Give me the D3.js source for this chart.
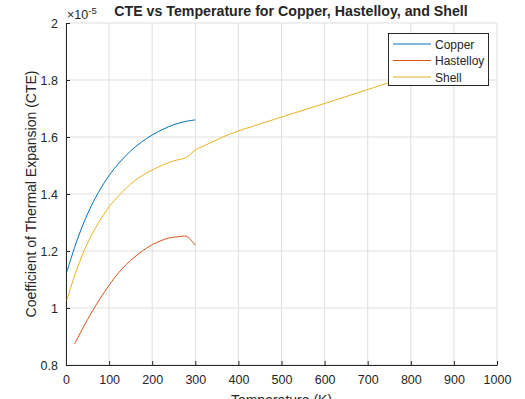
<!DOCTYPE html>
<html>
<head>
<meta charset="utf-8">
<style>
body { margin: 0; background: white; }
text { font-family: "Liberation Sans", Arial, sans-serif; fill: #262626; }
</style>
<script src="https://d3js.org/d3.v7.min.js"></script>
</head>
<body>
<div id="chart"></div>
<script>
// readings, CTE in units of 1e-5
var seriesNames = ["Copper", "Hastelloy", "Shell"];
var seriesColors = ["#0072BD", "#D95319", "#EDB120"];

var copperT = [2, 25, 50, 75, 100, 125, 150, 175, 200, 225, 250, 275, 300];
var copperCTE = [1.127, 1.235, 1.33, 1.405, 1.465, 1.512, 1.551, 1.582, 1.607, 1.627, 1.643, 1.654, 1.66];

var hastT = [20, 40, 60, 80, 100, 120, 140, 160, 180, 200, 220, 240, 260, 280, 300];
var hastCTE = [0.874, 0.932, 0.986, 1.035, 1.08, 1.12, 1.153, 1.18, 1.203, 1.222, 1.236, 1.246, 1.25, 1.251, 1.22];

var shellT = [2, 25, 50, 75, 100, 125, 150, 175, 200, 225, 250, 280, 300, 333, 380, 496, 605, 744, 800];
var shellCTE = [1.028, 1.135, 1.228, 1.298, 1.355, 1.398, 1.435, 1.463, 1.484, 1.502, 1.516, 1.529, 1.554, 1.578, 1.61, 1.668, 1.72, 1.788, 1.815];

var xTicks = [0, 100, 200, 300, 400, 500, 600, 700, 800, 900, 1000];
var yTicks = [0.8, 1, 1.2, 1.4, 1.6, 1.8, 2];

var W = 525, H = 399;
var padL = 66, padR = 497, padT = 23, padB = 365;

var svg = d3.select("#chart").append("svg")
    .attr("width", W).attr("height", H)
    .style("background", "white");

var x = d3.scaleLinear().domain([0, 1000]).range([padL, padR]);
var y = d3.scaleLinear().domain([0.8, 2]).range([padB, padT]);

// grid
svg.append("g").selectAll("line").data(xTicks).enter().append("line")
    .attr("x1", function(d) { return x(d); }).attr("x2", function(d) { return x(d); })
    .attr("y1", padT).attr("y2", padB)
    .attr("stroke", "#dfdfdf").attr("stroke-width", 1);
svg.append("g").selectAll("line").data(yTicks).enter().append("line")
    .attr("y1", function(d) { return y(d); }).attr("y2", function(d) { return y(d); })
    .attr("x1", padL).attr("x2", padR)
    .attr("stroke", "#dfdfdf").attr("stroke-width", 1);

// axes
var xAxis = d3.axisBottom(x).tickValues(xTicks).tickSizeInner(-4).tickSizeOuter(0).tickPadding(8)
    .tickFormat(d3.format("d"));
var yAxis = d3.axisLeft(y).tickValues(yTicks).tickSizeInner(-4).tickSizeOuter(0).tickPadding(8)
    .tickFormat(function(d) { return d === 1 || d === 2 ? String(d) : d.toFixed(1); });

var gx = svg.append("g").attr("transform", "translate(0," + padB + ")").call(xAxis);
var gy = svg.append("g").attr("transform", "translate(" + padL + ",0)").call(yAxis);
[gx, gy].forEach(function(g) {
    g.select(".domain").attr("stroke", "#262626");
    g.selectAll(".tick line").attr("stroke", "#262626");
    g.selectAll(".tick text").attr("font-size", "12.5px")
        .attr("font-family", "Liberation Sans, Arial, sans-serif").attr("fill", "#262626");
});
gx.selectAll(".tick text").attr("dy", "0.9em");

// lines
var sets = [
    copperT.map(function(t, i) { return [t, copperCTE[i]]; }),
    hastT.map(function(t, i) { return [t, hastCTE[i]]; }),
    shellT.map(function(t, i) { return [t, shellCTE[i]]; })
];
var line = d3.line().curve(d3.curveCatmullRom.alpha(0.5))
    .x(function(d) { return x(d[0]); })
    .y(function(d) { return y(d[1]); });
svg.append("g").selectAll("path").data(sets).enter().append("path")
    .attr("d", line)
    .attr("fill", "none")
    .attr("stroke", function(d, i) { return seriesColors[i]; })
    .attr("stroke-width", 1);

// legend
var lg = svg.append("g");
lg.append("rect").attr("x", 388.5).attr("y", 33.5).attr("width", 100).attr("height", 52)
    .attr("fill", "white").attr("stroke", "#262626").attr("stroke-width", 1);
seriesNames.forEach(function(name, i) {
    var yy = 44 + i * 16.5;
    lg.append("line").attr("x1", 393).attr("x2", 431).attr("y1", yy).attr("y2", yy)
        .attr("stroke", seriesColors[i]).attr("stroke-width", 1);
    lg.append("text").attr("x", 435).attr("y", yy + 4.5).attr("font-size", "12px").text(name);
});

// title and labels
svg.append("text").attr("x", 291).attr("y", 15.5).attr("text-anchor", "middle")
    .attr("font-size", "14.2px").attr("font-weight", "bold").attr("fill", "#000")
    .text("CTE vs Temperature for Copper, Hastelloy, and Shell");

var ex = svg.append("text").attr("x", 67).attr("y", 19).attr("font-size", "12.5px");
ex.append("tspan").text("\u00d710");
ex.append("tspan").attr("dy", -5).attr("font-size", "9.5px").text("-5");

svg.append("text")
    .attr("transform", "translate(35.5," + ((padT + padB) / 2) + ") rotate(-90)")
    .attr("text-anchor", "middle").attr("font-size", "14px")
    .text("Coefficient of Thermal Expansion (CTE)");

svg.append("text").attr("x", (padL + padR) / 2).attr("y", 405).attr("text-anchor", "middle")
    .attr("font-size", "14px").text("Temperature (K)");
</script>
</body>
</html>
